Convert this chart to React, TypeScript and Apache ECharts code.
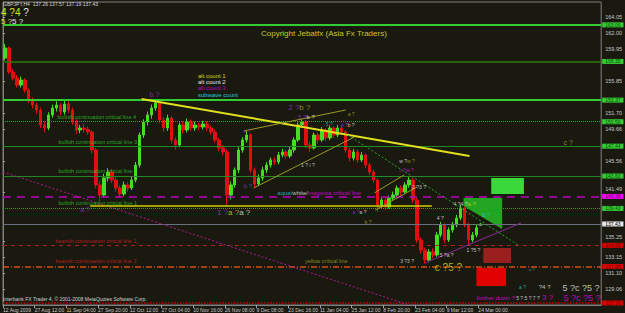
import React, { useEffect, useRef } from 'react';
import * as echarts from 'echarts';

// candles: [open, close, low, high]  (GBPJPY H4)
const candles: number[][] = [
  [158.80, 160.08, 158.50, 160.60], [160.08, 156.99, 156.70, 160.30], [156.99, 156.22, 155.90, 157.40],
  [156.22, 155.32, 155.00, 156.60], [155.32, 155.96, 155.00, 156.40], [155.96, 154.67, 154.30, 156.20],
  [154.67, 153.39, 153.00, 154.90], [153.39, 152.74, 152.30, 153.70], [152.74, 152.10, 151.60, 153.10],
  [152.10, 150.17, 149.80, 152.40], [150.17, 149.78, 149.20, 150.60], [149.78, 151.46, 149.50, 151.80],
  [151.46, 152.36, 151.10, 152.80], [152.36, 152.74, 151.90, 153.20], [152.74, 151.84, 151.40, 153.00],
  [151.84, 152.87, 151.50, 153.30], [152.87, 152.10, 151.70, 153.20], [152.10, 150.56, 150.20, 152.40],
  [150.56, 149.53, 149.00, 150.90], [149.53, 149.78, 149.10, 150.20], [149.78, 149.60, 149.20, 150.30],
  [149.60, 149.27, 148.90, 150.00], [149.27, 146.95, 146.50, 149.50], [146.95, 142.45, 142.00, 147.20],
  [142.45, 141.16, 140.30, 143.00], [141.16, 143.35, 140.90, 143.90], [143.35, 144.12, 142.90, 144.60],
  [144.12, 143.09, 142.70, 144.50], [143.09, 142.06, 141.60, 143.40], [142.06, 141.29, 140.80, 142.40],
  [141.29, 142.45, 141.00, 142.90], [142.45, 142.06, 141.60, 142.80], [142.06, 143.09, 141.80, 143.50],
  [143.09, 145.02, 142.80, 145.40], [145.02, 148.88, 144.70, 149.20], [148.88, 150.56, 148.50, 150.90],
  [150.56, 151.46, 150.10, 151.90], [151.46, 152.36, 151.00, 152.80], [152.36, 153.00, 152.00, 153.50],
  [153.00, 150.81, 150.40, 153.30], [150.81, 149.78, 149.30, 151.20], [149.78, 151.07, 149.40, 151.50],
  [151.07, 148.24, 147.80, 151.30], [148.24, 147.60, 147.00, 148.60], [147.60, 150.17, 147.30, 150.50],
  [150.17, 149.53, 149.10, 150.60], [149.53, 150.56, 149.20, 151.00], [150.56, 149.78, 149.40, 150.90],
  [149.78, 150.17, 149.40, 150.60], [150.17, 149.91, 149.50, 150.50], [149.91, 150.30, 149.60, 150.70],
  [150.30, 149.78, 149.40, 150.60], [149.78, 149.27, 148.90, 150.10], [149.27, 148.24, 147.90, 149.60],
  [148.24, 147.21, 146.80, 148.50], [147.21, 146.70, 146.20, 147.60], [146.70, 141.16, 139.90, 147.00],
  [141.16, 142.45, 140.60, 142.90], [142.45, 144.38, 142.10, 144.70], [144.38, 146.95, 144.00, 147.30],
  [146.95, 148.24, 146.60, 148.60], [148.24, 148.88, 147.90, 149.50], [148.88, 144.38, 144.00, 149.10],
  [144.38, 142.58, 142.10, 144.70], [142.58, 143.35, 142.30, 143.80], [143.35, 144.38, 143.00, 144.80],
  [144.38, 145.02, 144.00, 145.40], [145.02, 145.67, 144.70, 146.00], [145.67, 145.41, 145.00, 146.00],
  [145.41, 146.31, 145.10, 146.70], [146.31, 146.70, 146.00, 147.10], [146.70, 146.18, 145.80, 147.00],
  [146.18, 146.95, 145.90, 147.30], [146.95, 148.24, 146.60, 148.60], [148.24, 150.17, 148.00, 150.50],
  [150.17, 150.56, 149.80, 150.90], [150.56, 147.60, 147.20, 150.80], [147.60, 147.21, 146.70, 148.00],
  [147.21, 148.88, 147.00, 149.20], [148.88, 148.24, 147.80, 149.20], [148.24, 149.53, 148.00, 149.90],
  [149.53, 148.50, 148.10, 149.80], [148.50, 149.78, 148.20, 150.10], [149.78, 148.88, 148.50, 150.00],
  [148.88, 149.78, 148.60, 150.20], [149.78, 149.27, 148.90, 150.10], [149.27, 146.95, 146.60, 149.50],
  [146.95, 145.92, 145.50, 147.20], [145.92, 146.70, 145.60, 147.10], [146.70, 145.67, 145.30, 147.00],
  [145.67, 146.31, 145.40, 146.70], [146.31, 145.02, 144.60, 146.50], [145.02, 144.12, 143.70, 145.30],
  [144.12, 143.09, 142.70, 144.40], [143.09, 139.88, 139.00, 143.30], [139.88, 140.52, 139.50, 140.90],
  [140.52, 139.62, 139.20, 140.80], [139.62, 140.78, 139.40, 141.10], [140.78, 141.16, 140.40, 141.60],
  [141.16, 142.06, 140.90, 142.40], [142.06, 141.55, 141.10, 142.40], [141.55, 142.45, 141.30, 142.80],
  [142.45, 143.09, 142.10, 143.60], [143.09, 140.52, 140.10, 143.30], [140.52, 135.37, 135.00, 140.80],
  [135.37, 134.08, 133.60, 135.70], [134.08, 132.80, 132.30, 134.40], [132.80, 133.83, 132.50, 134.20],
  [133.83, 133.44, 133.00, 134.30], [133.44, 136.02, 133.20, 136.40], [136.02, 137.30, 135.70, 137.70],
  [137.30, 135.37, 135.00, 137.50], [135.37, 136.66, 135.10, 137.00], [136.66, 137.30, 136.30, 137.70],
  [137.30, 138.20, 137.00, 138.60], [138.20, 139.49, 137.90, 139.90], [139.49, 137.30, 137.00, 139.70],
  [137.30, 135.37, 134.70, 137.60], [135.37, 136.02, 135.10, 136.40], [136.02, 136.94, 135.70, 137.30],
  [137.26, 137.43, 137.19, 137.57],
];

const xTickValues = [0, 8, 16, 24, 32, 40, 48, 56, 64, 72, 80, 88, 96, 104, 112, 120];
const xTickLabels = [
  '12 Aug 2009', '27 Aug 12:00', '11 Sep 04:00', '27 Sep 20:00', '12 Oct 12:00', '27 Oct 04:00',
  '10 Nov 16:00', '26 Nov 08:00', '9 Dec 08:00', '23 Dec 16:00', '11 Jan 04:00', '25 Jan 12:00',
  '8 Feb 20:00', '23 Feb 04:00', '9 Mar 12:00', '24 Mar 00:00',
];
// tick labels that are not hidden behind the price-level boxes
const yTickValues = [164.05, 162.0, 159.95, 155.85, 151.7, 149.66, 145.56,
  141.49, 135.25, 133.15, 131.1, 129.06];
// tick labels that sit just above a level box and are drawn raised
const yTickRaised = [141.49, 135.25];

// horizontal price levels
const levelPrices = [163.06, 158.35, 153.37, 150.59, 147.44, 143.6, 140.98, 139.43, 137.43, 134.68, 131.95, 127.26];
const levelKinds = ['gB', 'gD', 'gB', 'gDot', 'gS', 'gS', 'mag', 'gDot', 'cur', 'red1', 'red2', 'red3'];

// trend lines [x1, p1, x2, p2]
const trendLines = [
  [35, 153.52, 117.75, 146.18],
  [0, 144.12, 102.5, 127.0],
  [106.5, 132.41, 130.75, 137.56],
  [86.25, 149.14, 130, 134.73],
  [60.75, 149.4, 86.5, 152.1],
  [63.25, 142.06, 88.75, 148.63],
  [93.75, 141.42, 101.25, 143.74],
  [94, 139.23, 104.5, 142.19],
  [22, 139.8, 108.25, 139.8],
];
const trendKinds = ['yellowThick', 'magDot', 'purple', 'greenDot', 'olive', 'olive', 'olive', 'olive', 'yellowH'];

// rectangles [x1, p1, x2, p2]
const boxes = [
  [123.25, 143.35, 131.5, 141.29],
  [121.25, 134.34, 128.25, 132.41],
  [119.5, 131.77, 127, 129.45],
];
const boxColors = ['#3ad83a', '#9a2020', '#e00000'];
const greenPolygon = [[116.25, 140.78], [126, 140.78], [126, 136.79], [116.25, 139.75]];

// wave labels [x, price, text]
const annotations: [number, number, string][] = [
  [13.75, 151.2, '{g5_5|bullish continuation critical line 4}'],
  [14, 147.98, '{g5_5|bullish continuation critical line 3}'],
  [14, 144.25, '{g5_5|bullish continuation critical line 2}'],
  [14, 140.13, '{g5_5|bullish continuation critical line 1}'],
  [13.25, 135.24, '{r5_5|bearish continuation critical line 1}'],
  [13.25, 132.67, '{r5_5|bearish continuation critical line 2}'],
  [76.25, 132.67, '{o5_5|yellow critical line}'],
  [69.25, 141.42, '{c6|aqua/}{w6|white/}{m6|magenta critical line}'],
  [37, 154.03, '{p7|b ?}'],
  [72, 152.36, '{p8|2 ?}{o8|b ?}'],
  [74.5, 151.2, '{p6|5 ?}{w6|b ?}'],
  [87, 151.59, '{o5|a ?}'],
  [60.75, 149.4, '{p5|a ?}'],
  [81.5, 150.3, '{c5|5 ?}'],
  [85.25, 150.17, '{p5|4 ?}{w5|b ?}'],
  [75.25, 145.02, '{w5|1 ? i ?}'],
  [60.75, 142.32, '{p6|b ?}'],
  [100, 145.54, '{w5|w ?}{o5|w ?}'],
  [100, 144.38, '{p5|c ?}{m5|w ?}'],
  [141.5, 147.98, '{o7|c ?}'],
  [54, 138.97, '{p8|1 ?}{y8|a ?}{w8|a ?}'],
  [19.5, 139.23, '{p7|a ?}'],
  [88.25, 138.97, '{p5|a ?}{w5|a ?}'],
  [91.25, 137.68, '{o5|b ?}'],
  [100.25, 132.67, '{w5|3 ?3 ?}'],
  [109, 131.89, '{y10|c ?5 ?}'],
  [109.5, 138.2, '{w5|4 ?}'],
  [110.25, 133.44, '{w5|5 ?a ?}'],
  [117, 134.08, '{w5|1 ?5 ?}'],
  [113.75, 140.0, '{w5|4 ?4 ?}{y6|a ?}'],
  [121, 138.59, '{c5|B ?}'],
  [103.25, 142.19, '{w5|2 ?3 ?}'],
  [132.75, 131.51, '{c4|a ?}'],
  [119.5, 127.91, '{m6|further down ?}{w5| 5 ? 5 ? 7 ?}{m8| 3 ?}'],
  [130.25, 129.3, '{c5|a ?}'],
  [135.25, 129.3, '{w6|?4 ?}'],
  [141.25, 129.19, '{w9|5 ?c ?5 ?}'],
  [141.5, 127.91, '{m9|5 ?c ?5 ?}'],
];

const FONT = 'Liberation Sans';
const palette: Record<string, string> = {
  p: '#9b30d0', y: '#d8d820', w: '#e6e6e6', c: '#22c8d8', m: '#e000e0',
  o: '#a8a828', g: '#2ecc2e', r: '#d02020',
};
const sizes = [4, 5, 5.5, 6, 7, 8, 9, 10];
const rich: Record<string, any> = {};
Object.keys(palette).forEach((k) => {
  sizes.forEach((s) => {
    rich[k + String(s).replace('.', '_')] = { color: palette[k], fontSize: s, fontFamily: FONT };
  });
});

const levelStyle: Record<string, any> = {
  gB: { line: { color: '#33cc33', width: 2, type: 'solid' }, bg: '#33cc33', fg: '#0d4d0d' },
  gD: { line: { color: '#2f7d0a', width: 1.5, type: 'solid' }, bg: '#33cc33', fg: '#0d4d0d' },
  gDot: { line: { color: '#22aa22', width: 1, type: 'dotted' }, bg: '#33cc33', fg: '#0d4d0d' },
  gS: { line: { color: '#238a23', width: 1, type: 'solid' }, bg: '#33cc33', fg: '#0d4d0d' },
  mag: { line: { color: '#c000c0', width: 1.5, type: [8, 6] }, bg: '#ff00ff', fg: '#600060' },
  cur: { line: { color: '#6a7080', width: 1, type: 'solid' }, bg: '#e8e8e8', fg: '#000000' },
  red1: { line: { color: '#b02222', width: 1, type: [4, 4] }, bg: '#e00000', fg: '#600000' },
  red2: { line: { color: '#d05010', width: 1.5, type: [6, 2, 1, 2] }, bg: '#e00000', fg: '#600000' },
  red3: { line: { color: '#cc0000', width: 1.5, type: 'dotted' }, bg: '#e00000', fg: '#600000' },
};
const trendStyle: Record<string, any> = {
  yellowThick: { color: '#e0e020', width: 2, type: 'solid' },
  magDot: { color: '#b01890', width: 1, type: [2, 2] },
  purple: { color: '#8a2a9a', width: 1, type: 'solid' },
  greenDot: { color: '#22aa22', width: 1, type: [2, 2] },
  olive: { color: '#9a9a20', width: 1, type: 'solid' },
  yellowH: { color: '#d0d000', width: 1.5, type: 'solid' },
};

export default function App() {
  const ref = useRef<HTMLDivElement>(null);
  useEffect(() => {
    document.body.style.margin = '0';
    const chart = echarts.init(ref.current!, undefined, { renderer: 'svg' });
    const hMarks = levelPrices.map((v, i) => {
      const st = levelStyle[levelKinds[i]];
      return {
        yAxis: v,
        lineStyle: st.line,
        label: {
          show: true, position: 'end', distance: 1, formatter: v.toFixed(2),
          backgroundColor: st.bg, color: st.fg, fontSize: 5, fontFamily: FONT, padding: [0, 3],
        },
      };
    });
    const tMarks = trendLines.map((t, i) => [
      { coord: [t[0], t[1]], lineStyle: trendStyle[trendKinds[i]], label: { show: false } },
      { coord: [t[2], t[3]] },
    ]);
    const option: any = {
      animation: false,
      backgroundColor: '#1a1910',
      grid: { left: 2, right: 19, top: 2, bottom: 8, show: true, borderColor: '#7f7f7f', borderWidth: 1 },
      xAxis: {
        type: 'value', min: 0, max: 151,
        axisLine: { show: true, lineStyle: { color: '#808080' } },
        axisTick: { show: true, length: 3, customValues: xTickValues, lineStyle: { color: '#a0a0a0' } },
        axisLabel: {
          customValues: xTickValues,
          formatter: (v: number) => xTickLabels[Math.round(v / 8)] ?? '',
          align: 'left', color: '#c8c8c8', fontSize: 5, fontFamily: FONT, margin: 2,
        },
        splitLine: { show: false },
      },
      yAxis: {
        type: 'value', position: 'right', min: 127, max: 166,
        axisLine: { show: true, lineStyle: { color: '#808080' } },
        axisTick: { show: true, length: 2, customValues: yTickValues, lineStyle: { color: '#a0a0a0' } },
        axisLabel: {
          customValues: yTickValues,
          formatter: (v: number) => (yTickRaised.some((r) => Math.abs(r - v) < 0.001) ? `{up|${v.toFixed(2)}}` : v.toFixed(2)),
          color: '#c8c8c8', fontSize: 5.5, fontFamily: FONT, margin: 4,
          rich: { up: { color: '#c8c8c8', fontSize: 5.5, fontFamily: FONT, padding: [0, 0, 7, 0] } },
        },
        splitLine: { show: false },
      },
      graphic: [
        { type: 'text', z: 20, x: 3, y: 1, style: { text: 'GBPJPY,H4  137.26 137.57 137.19 137.43', fill: '#d8d8d8', font: `5px "${FONT}"` } },
        {
          type: 'text', z: 20, x: 1, y: 7,
          style: {
            text: '{y|4 ?4} {w|?}', font: `10px "${FONT}"`,
            rich: { y: { fill: '#e0e020', font: `10px "${FONT}"` }, w: { fill: '#e6e6e6', font: `10px "${FONT}"` } },
          },
        },
        {
          type: 'text', z: 20, x: 1, y: 17,
          style: {
            text: '{y|5 ?}{w|5 ?}', font: `8px "${FONT}"`,
            rich: { y: { fill: '#e0e020', font: `8px "${FONT}"` }, w: { fill: '#e6e6e6', font: `8px "${FONT}"` } },
          },
        },
        { type: 'text', z: 20, x: 261, y: 29, style: { text: 'Copyright Jebatfx (Asia Fx Traders)', fill: '#c8c81e', font: `8px "${FONT}"` } },
        { type: 'text', z: 20, x: 198, y: 73, style: { text: 'alt count 1', fill: '#d8d820', font: `6px "${FONT}"` } },
        { type: 'text', z: 20, x: 198, y: 79, style: { text: 'alt count 2', fill: '#e6e6e6', font: `6px "${FONT}"` } },
        { type: 'text', z: 20, x: 198, y: 85, style: { text: 'alt count 3', fill: '#c000c0', font: `6px "${FONT}"` } },
        { type: 'text', z: 20, x: 198, y: 92, style: { text: 'subwave count', fill: '#22c8d8', font: `6px "${FONT}"` } },
        { type: 'text', z: 20, x: 3, y: 296, style: { text: 'Interbank FX Trader 4, \u00a9 2001-2008 MetaQuotes Software Corp.', fill: '#d0d0d0', font: `5px "${FONT}"` } },
      ],
      series: [
        {
          type: 'custom',
          renderItem: (_p: any, api: any) => ({
            type: 'polygon',
            shape: { points: greenPolygon.map((pt) => api.coord(pt)) },
            style: { fill: '#23a523' },
          }),
          data: [[0, 140]],
          silent: true,
          z: 1,
        },
        {
          type: 'candlestick',
          data: candles.map((c, i) => [i + 0.5, c[0], c[1], c[2], c[3]]),
          barWidth: 3,
          itemStyle: { color: '#44dd22', color0: '#e01010', borderColor: '#44dd22', borderColor0: '#e01010', borderWidth: 1 },
          markArea: {
            silent: true,
            data: boxes.map((b, i) => [
              { coord: [b[0], b[1]], itemStyle: { color: boxColors[i], opacity: 1 } },
              { coord: [b[2], b[3]] },
            ]),
          },
          markLine: {
            silent: true, symbol: ['none', 'none'], animation: false,
            data: [...hMarks, ...tMarks],
          },
          z: 2,
        },
        {
          type: 'scatter',
          data: annotations.map((a) => [a[0], a[1]]),
          symbolSize: 0,
          silent: true,
          clip: false,
          z: 5,
          label: {
            show: true, position: 'right', distance: 0, align: 'left', verticalAlign: 'middle',
            formatter: (p: any) => annotations[p.dataIndex][2],
            rich,
          },
        },
      ],
    };
    chart.setOption(option);
    return () => chart.dispose();
  }, []);
  return <div ref={ref} style={{ width: 625, height: 313 }} />;
}
